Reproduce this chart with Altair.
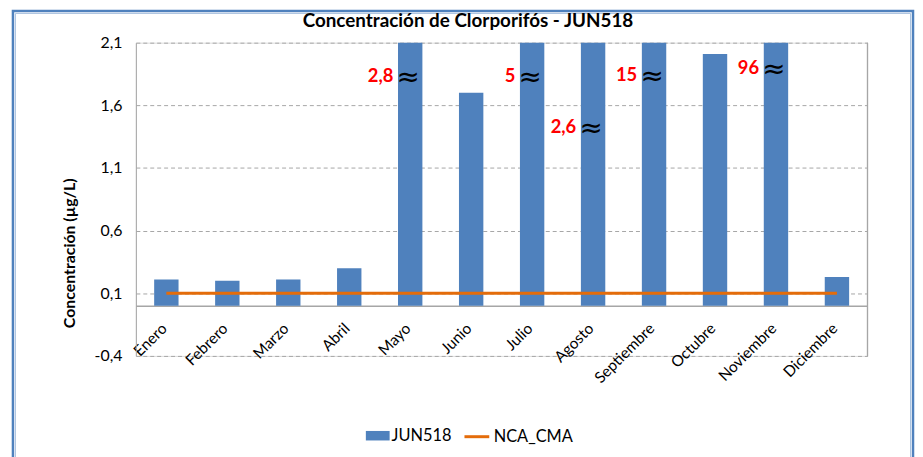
import altair as alt
import pandas as pd

# ---- data ----
meses = ["Enero", "Febrero", "Marzo", "Abril", "Mayo", "Junio", "Julio",
         "Agosto", "Septiembre", "Octubre", "Noviembre", "Diciembre"]
jun518 = [0.21, 0.20, 0.21, 0.30, 2.8, 1.70, 5, 2.6, 15, 2.01, 96, 0.23]
nca_cma = [0.1, 0.1, 0.1, 0.1, 0.1, 0.1, 0.1, 0.1, 0.1, 0.1, 0.1, 0.1]

anot_mes = ["Mayo", "Julio", "Agosto", "Septiembre", "Noviembre"]
anot_texto = ["2,8", "5", "2,6", "15", "96"]
anot_y = [1.83, 1.83, 1.43, 1.84, 1.90]

y_ticks = [-0.4, 0.1, 0.6, 1.1, 1.6, 2.1]

df = pd.DataFrame({"Mes": meses, "JUN518": jun518, "NCA_CMA": nca_cma,
                   "s1": ["JUN518"] * len(meses), "s2": ["NCA_CMA"] * len(meses)})
adf = pd.DataFrame({"Mes": anot_mes, "texto": anot_texto, "y": anot_y,
                    "sym": ["≈"] * len(anot_mes)})
one = pd.DataFrame({"a": [0]})

FONT = "Lato"
BLUE = "#4F81BD"
ORANGE = "#E46C0A"
GRAY = "#A6A6A6"

W, H = 738, 316

xenc = alt.X("Mes:N", sort=meses,
             scale=alt.Scale(paddingInner=0.6, paddingOuter=0.3),
             axis=alt.Axis(title=None, labelAngle=-45, labelAlign="right",
                           labelBaseline="top", labelPadding=15, labelOffset=-7,
                           ticks=False,
                           domainColor=GRAY, domainWidth=1.5, offset=-50.6,
                           labelFontSize=15.5, labelColor="black",
                           labelFont=FONT, grid=False))

yscale = alt.Scale(domain=[-0.4, 2.1], nice=False, zero=False)
yaxis = alt.Axis(values=y_ticks,
                 labelExpr="replace(replace(format(datum.value, '.1f'), '.', ','), '\u2212', '-')",
                 title="Concentración (µg/L)", titleFontSize=16, titleFont=FONT,
                 titleFontWeight="bold", titleColor="black",
                 titleX=-67, titleY=212, titleAngle=-90, titleAlign="center",
                 titleBaseline="middle",
                 labelFontSize=16, labelFont=FONT, labelColor="black",
                 labelPadding=14, ticks=False, domainColor=GRAY,
                 gridColor=GRAY, gridDash=[4, 3], grid=True)

base = alt.Chart(df)

bars = base.mark_bar(clip=True, color=BLUE).encode(
    x=xenc,
    y=alt.Y("JUN518:Q", scale=yscale, axis=yaxis),
    color=alt.Color("s1:N", scale=alt.Scale(domain=["JUN518"], range=[BLUE]),
                    legend=alt.Legend(orient="none", legendX=232, legendY=384.5,
                                      title=None, symbolType="M-1,-0.4H1V0.4H-1Z",
                                      symbolSize=576, symbolStrokeWidth=0,
                                      labelFontSize=16.5, labelFont=FONT,
                                      labelColor="black", labelOffset=2)),
)

line = base.mark_line(color=ORANGE, strokeWidth=3).encode(
    x=xenc,
    y=alt.Y("NCA_CMA:Q", scale=yscale, axis=yaxis),
    stroke=alt.Stroke("s2:N", scale=alt.Scale(domain=["NCA_CMA"], range=[ORANGE]),
                      legend=alt.Legend(orient="none", legendX=330, legendY=383.5,
                                        title=None, symbolType="stroke",
                                        symbolSize=625, symbolStrokeWidth=3,
                                        labelFontSize=16.5, labelFont=FONT,
                                        labelColor="black", labelOffset=3)),
)

labels = alt.Chart(adf).mark_text(color="#FF0000", fontWeight="bold", fontSize=18.5,
                                  font=FONT, align="right", baseline="middle",
                                  dx=-17).encode(
    x=xenc, y=alt.Y("y:Q", scale=yscale, axis=yaxis), text="texto:N")

approx = alt.Chart(adf).mark_text(color="black", fontSize=28, font="DejaVu Sans",
                                  align="center", baseline="middle",
                                  dx=-2, dy=2).encode(
    x=xenc, y=alt.Y("y:Q", scale=yscale, axis=yaxis), text="sym:N")

right_edge = alt.Chart(one).mark_rule(color=GRAY, strokeWidth=1.2).encode(
    x=alt.value(W), y=alt.value(0), y2=alt.value(H))

frame_outer = alt.Chart(one).mark_rect(filled=False, stroke=BLUE, strokeWidth=2.5).encode(
    x=alt.value(-124), x2=alt.value(784), y=alt.value(-32), y2=alt.value(440))
frame_inner = alt.Chart(one).mark_rect(filled=False, stroke="#A9C1DF", strokeWidth=1).encode(
    x=alt.value(-121.5), x2=alt.value(781.5), y=alt.value(-29.5), y2=alt.value(440))

chart = alt.layer(frame_outer, frame_inner, bars, line, labels, approx, right_edge).properties(
    width=W, height=H,
    autosize=alt.AutoSizeParams(type="none"),
    padding={"left": 129, "top": 33, "right": 48, "bottom": 100},
    title=alt.TitleParams("Concentración de Clorporifós - JUN518", fontSize=19,
                          font=FONT, fontWeight="bold", color="black",
                          dx=-34, dy=29, offset=8, frame="group", anchor="middle"),
).resolve_scale(color="independent").configure_view(strokeWidth=0).configure(background="white")

chart.save("out.html", embed_options={"renderer": "svg", "actions": False})
